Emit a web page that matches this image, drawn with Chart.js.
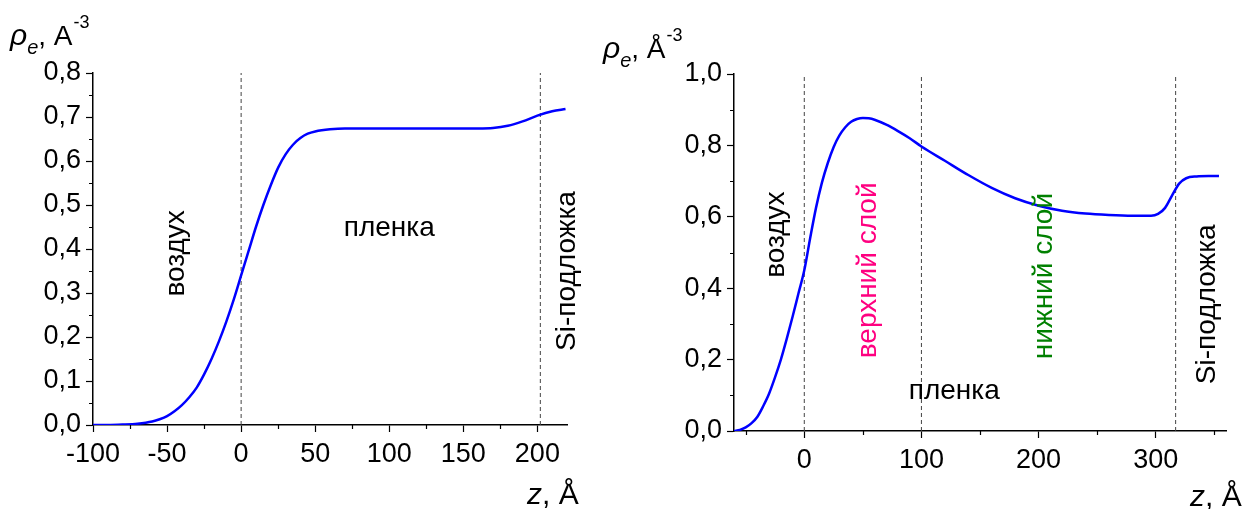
<!DOCTYPE html>
<html lang="ru">
<head>
  <meta charset="UTF-8">
  <title>Профиль электронной плотности</title>
  <script src="https://cdn.jsdelivr.net/npm/chart.js"></script>
  <style>
    body { margin: 0; background: #fff; }
    canvas { position: absolute; top: 0; }
    #left { left: 0; }
    #right { left: 600px; }
  </style>
</head>
<body>

<canvas id="left" width="600" height="509"></canvas>
<canvas id="right" width="650" height="509"></canvas>

<script>
  // левый профиль: однослойная пленка
  const leftZ = [-100, -90, -80, -70, -60, -55, -50, -45, -40, -35, -30, -25, -20, -15, -10, -5, 0, 5, 10, 15, 20, 25, 30, 35, 40, 45, 50, 60, 70, 80,
                 100, 120, 140, 160, 170, 180, 190, 200, 210, 219];
  const leftRho = [0, 0, 0.001, 0.003, 0.008, 0.013, 0.02, 0.031, 0.045, 0.063, 0.085, 0.115, 0.15, 0.19, 0.235, 0.285, 0.34, 0.395, 0.45, 0.5, 0.545, 0.585, 0.615, 0.637, 0.652, 0.662, 0.667, 0.672, 0.674, 0.674,
                   0.674, 0.674, 0.674, 0.674, 0.675, 0.68, 0.69, 0.703, 0.713, 0.718];
  const leftDividers = [0, 202];
  const leftXTicks = [-100, -50, 0, 50, 100, 150, 200];
  const leftXMinor = [-75, -25, 25, 75, 125, 175];
  const leftYTicks = [0, 0.1, 0.2, 0.3, 0.4, 0.5, 0.6, 0.7, 0.8];
  const leftYMinor = [0.05, 0.15, 0.25, 0.35, 0.45, 0.55, 0.65, 0.75];

  // правый профиль: двухслойная пленка
  const rightZ = [-60, -55, -50, -45, -40, -35, -30, -25, -20, -15, -10, -5, 0, 5, 10, 15, 20, 25, 30, 35, 40, 45, 50, 55, 60, 70, 80, 90, 100, 120, 140, 160, 180,
                  200, 220, 240, 260, 280, 296, 302, 308, 314, 320, 326, 335, 345, 354];
  const rightRho = [0, 0.003, 0.01, 0.022, 0.04, 0.07, 0.105, 0.15, 0.2, 0.258, 0.32, 0.385, 0.45, 0.54, 0.625, 0.695, 0.75, 0.795, 0.828, 0.851, 0.866, 0.874, 0.877, 0.876, 0.872, 0.858, 0.84, 0.82, 0.797, 0.757, 0.717, 0.681, 0.652,
                    0.631, 0.617, 0.609, 0.605, 0.603, 0.603, 0.608, 0.625, 0.66, 0.693, 0.708, 0.713, 0.714, 0.714];
  const rightDividers = [0, 100, 317];
  const rightXTicks = [0, 100, 200, 300];
  const rightXMinor = [-50, 50, 150, 250, 350];
  const rightYTicks = [0, 0.2, 0.4, 0.6, 0.8, 1.0];
  const rightYMinor = [0.1, 0.3, 0.5, 0.7, 0.9];

  // подписи областей: текст, z, rho, цвет, повернут ли
  const leftLabels = [
    ['воздух', -44, 0.39, '#000', true],
    ['пленка', 100, 0.448, '#000', false],
    ['Si-подложка', 220, 0.35, '#000', true]
  ];
  const rightLabels = [
    ['воздух', -24, 0.55, '#000', true],
    ['верхний слой', 55, 0.45, '#ff0080', true],
    ['нижний слой', 205, 0.434, '#008000', true],
    ['пленка', 128, 0.11, '#000', false],
    ['Si-подложка', 344, 0.355, '#000', true]
  ];

  const FONT = '"Liberation Sans", Arial, sans-serif';

  function comma(v) {
    return v.toFixed(1).replace('.', ',');
  }

  // рисует строку из кусков разного шрифта
  function drawParts(ctx, x, y, parts) {
    ctx.fillStyle = '#000';
    ctx.textBaseline = 'alphabetic';
    ctx.textAlign = 'left';
    for (const p of parts) {
      ctx.font = p[1] + ' ' + FONT;
      ctx.fillText(p[0], x, y + p[2]);
      x += ctx.measureText(p[0]).width + (p[3] || 0);
    }
  }

  const extras = {
    id: 'extras',
    afterDraw(chart, args, o) {
      const ctx = chart.ctx;
      const xs = chart.scales.x, ys = chart.scales.y;
      const area = chart.chartArea;
      ctx.save();
      // малые деления
      ctx.strokeStyle = '#000';
      ctx.lineWidth = 1.2;
      ctx.beginPath();
      o.xMinor.forEach(v => {
        const px = Math.round(xs.getPixelForValue(v)) + 0.5;
        ctx.moveTo(px, area.bottom);
        ctx.lineTo(px, area.bottom + 4);
      });
      o.yMinor.forEach(v => {
        const py = Math.round(ys.getPixelForValue(v)) + 0.5;
        ctx.moveTo(area.left, py);
        ctx.lineTo(area.left - 4, py);
      });
      ctx.stroke();

      // подписи областей
      ctx.font = '28px ' + FONT;
      ctx.textAlign = 'center';
      ctx.textBaseline = 'middle';
      o.labels.forEach(l => {
        const px = xs.getPixelForValue(l[1]);
        const py = ys.getPixelForValue(l[2]);
        ctx.fillStyle = l[3];
        ctx.save();
        ctx.translate(px, py);
        if (l[4]) ctx.rotate(-Math.PI / 2);
        ctx.fillText(l[0], 0, 0);
        ctx.restore();
      });

      // подписи осей
      drawParts(ctx, o.yTitle[0], o.yTitle[1], [
        ['ρ', 'italic 30px', 0],
        ['e', 'italic 20px', 9],
        [', ', '28px', 0],
        [o.unit, '28px', 0, 1],
        ['-3', '18px', -17]
      ]);
      drawParts(ctx, o.xTitle[0], o.xTitle[1], [
        ['z', 'italic 30px', 0],
        [', Å', '30px', 0]
      ]);
      ctx.restore();
    }
  };

  function makeChart(id, z, rho, dividers, xMin, xMax, yMax, xTicks, yTicks, area, opts) {
    const datasets = [{
      data: z.map((v, i) => ({x: v, y: rho[i]})),
      borderColor: '#0000ff',
      borderWidth: 2.5,
      pointRadius: 0,
      cubicInterpolationMode: 'monotone'
    }];
    dividers.forEach(d => datasets.push({
      data: [{x: d, y: 0}, {x: d, y: yMax}],
      borderColor: '#444',
      borderWidth: 1,
      borderDash: [4, 3],
      pointRadius: 0
    }));

    const ctx = document.getElementById(id).getContext('2d');
    return new Chart(ctx, {
      type: 'line',
      data: {datasets: datasets},
      plugins: [extras],
      options: {
        responsive: false,
        animation: false,
        layout: {padding: {left: 0, right: area.right, top: area.top, bottom: 0}},
        plugins: {
          legend: {display: false},
          tooltip: {enabled: false},
          extras: opts
        },
        scales: {
          x: {
            type: 'linear',
            min: xMin,
            max: xMax,
            afterBuildTicks: s => { s.ticks = xTicks.map(v => ({value: v})); },
            afterFit: s => { s.height = area.xHeight; },
            grid: {drawOnChartArea: false, tickLength: 7, tickColor: '#000', tickWidth: 1.2},
            border: {color: '#000', width: 1.5},
            ticks: {color: '#000', padding: 6, font: {family: FONT, size: 27}, maxRotation: 0}
          },
          y: {
            min: 0,
            max: yMax,
            afterBuildTicks: s => { s.ticks = yTicks.map(v => ({value: v})); },
            afterFit: s => { s.width = area.yWidth; },
            grid: {drawOnChartArea: false, tickLength: 7, tickColor: '#000', tickWidth: 1.2},
            border: {color: '#000', width: 1.5},
            ticks: {color: '#000', padding: 5, font: {family: FONT, size: 27}, callback: v => comma(v)}
          }
        }
      }
    });
  }

  makeChart('left', leftZ, leftRho, leftDividers, -100, 220, 0.8, leftXTicks, leftYTicks,
    {right: 33, top: 73, xHeight: 84, yWidth: 93},
    {xMinor: leftXMinor, yMinor: leftYMinor, labels: leftLabels, unit: 'A', yTitle: [10, 45], xTitle: [527, 504]});

  makeChart('right', rightZ, rightRho, rightDividers, -60, 360, 1.0, rightXTicks, rightYTicks,
    {right: 24, top: 74, xHeight: 78, yWidth: 134},
    {xMinor: rightXMinor, yMinor: rightYMinor, labels: rightLabels, unit: 'Å', yTitle: [3, 58], xTitle: [590, 506]});
</script>

</body>
</html>
